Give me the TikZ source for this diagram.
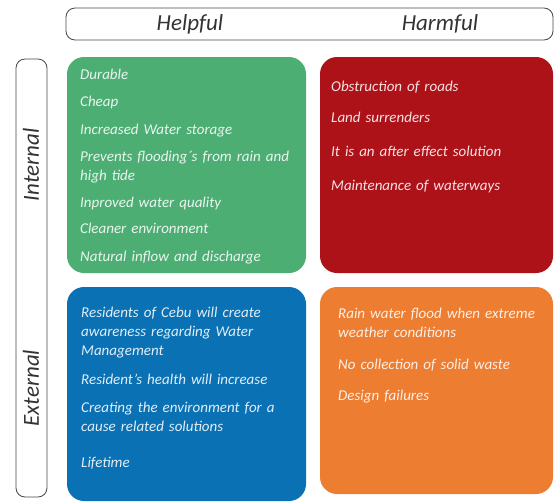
\documentclass[tikz,border=0pt]{standalone}
\usepackage{fontspec}
\setmainfont{Carlito}
\usepackage{tikz}
\definecolor{swotgreen}{RGB}{77,174,116}
\definecolor{swotred}{RGB}{174,18,25}
\definecolor{swotblue}{RGB}{10,113,180}
\definecolor{swotorange}{RGB}{237,125,49}
\definecolor{framegray}{RGB}{70,70,70}
\tikzset{
  quad/.style={rectangle, rounded corners=17pt, inner sep=0pt,
    minimum height=216pt},
  items/.style={anchor=base west, text width=240pt, align=left,
    inner sep=0pt, text=white, text opacity=0.88,
    font=\itshape\fontsize{15}{19}\selectfont},
  bar/.style={rectangle, draw=framegray, rounded corners=9pt,
    line width=0.8pt, inner sep=0pt},
  axislabel/.style={font=\itshape\fontsize{23}{26}\selectfont, text=black!80}
}

\begin{document}
\begin{tikzpicture}[x=1pt, y=-1pt]
  \useasboundingbox (0,0) rectangle (554,501);

  % Header bars
  \node[bar, minimum width=487pt, minimum height=32pt] (topbar) at (309.5,24) {};
  \node[bar, minimum width=31pt, minimum height=438pt] (sidebar) at (31.5,278) {};
  \node[axislabel] (helpful) at (190,24) {Helpful};
  \node[axislabel] (harmful) at (440,24) {Harmful};
  \node[axislabel, rotate=90] (internal) at (31,165) {Internal};
  \node[axislabel, rotate=90] (external) at (31,388) {External};

  % Quadrants
  \node[quad, fill=swotgreen, minimum width=239pt] (strengths) at (186.5,165) {};
  \node[quad, fill=swotred, minimum width=233pt] (weaknesses) at (436.5,165) {};
  \node[quad, fill=swotblue, minimum width=239pt, minimum height=214pt] (opportunities) at (186.5,394) {};
  \node[quad, fill=swotorange, minimum width=233pt, minimum height=207pt] (threats) at (436.5,390.5) {};

  % Lists
  \node[items] (strengths-list) at (80,79) {Durable\\[8pt]
    Cheap\\[9pt]
    Increased Water storage\\[8pt]
    Prevents flooding´s from rain and\\high tide\\[8pt]
    Inproved water quality\\[7pt]
    Cleaner environment\\[9pt]
    Natural inflow and discharge};
  \node[items] (weaknesses-list) at (331,91) {Obstruction of roads\\[12pt]
    Land surrenders\\[15pt]
    It is an after effect solution\\[15pt]
    Maintenance of waterways};
  \node[items] (opportunities-list) at (81,317) {Residents of Cebu will create\\awareness regarding Water\\Management\\[10pt]
    Resident’s health will increase\\[9pt]
    Creating the environment for a\\cause related solutions\\[17pt]
    Lifetime};
  \node[items] (threats-list) at (338,318) {Rain water flood when extreme\\weather conditions\\[13pt]
    No collection of solid waste\\[12pt]
    Design failures};
\end{tikzpicture}
\end{document}
